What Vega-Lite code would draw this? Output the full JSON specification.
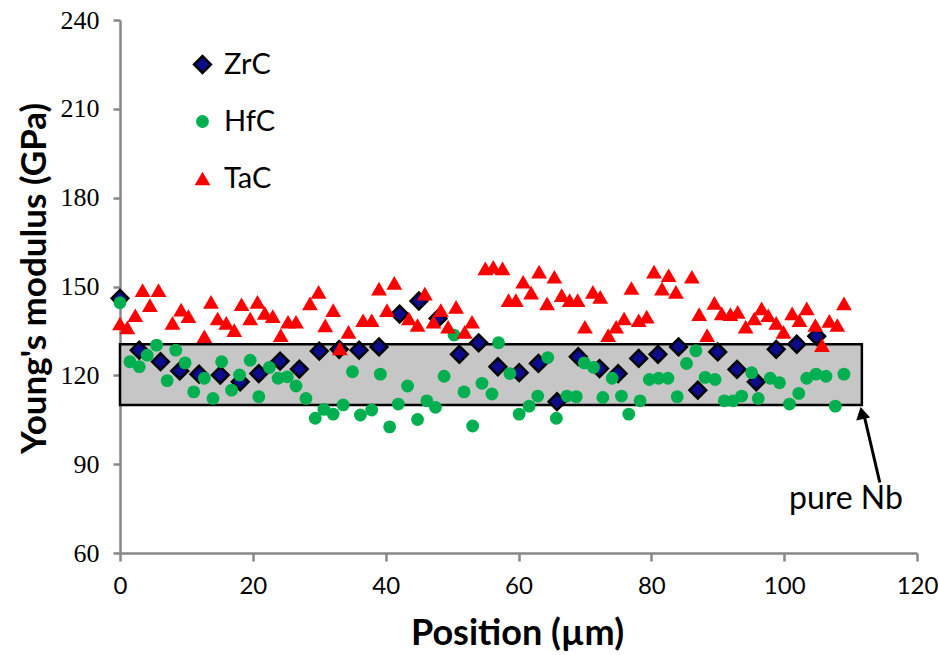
{
  "$schema": "https://vega.github.io/schema/vega-lite/v6.json",
  "width": 797,
  "height": 533,
  "autosize": {"type": "none"},
  "padding": {"left": 120, "top": 20, "right": 22, "bottom": 102},
  "background": "white",
  "config": {
    "view": {"stroke": null},
    "axis": {"grid": false},
    "legend": {
      "orient": "none",
      "legendX": 68,
      "legendY": 30,
      "labelFont": "Lato",
      "labelFontSize": 29,
      "labelColor": "black",
      "labelOffset": 7,
      "rowPadding": 27,
      "symbolOpacity": 1
    }
  },
  "datasets": {
    "band": [{"start": 0, "end": 111.7, "low": 110, "high": 130.5}],
    "note": [{"position": 109.3, "modulus": 78.3, "label": "pure Nb"}],
    "arrow": [{"from_x": 114.4, "from_y": 83.8, "to_x": 112.0, "to_y": 106.8, "head_x": 111.7, "head_y": 107.3}],
    "modulus": [
      {"position": 0, "modulus": 146, "material": "ZrC"},
      {"position": 2.9, "modulus": 128.5, "material": "ZrC"},
      {"position": 6.1, "modulus": 124.6, "material": "ZrC"},
      {"position": 9, "modulus": 121.5, "material": "ZrC"},
      {"position": 11.9, "modulus": 120.4, "material": "ZrC"},
      {"position": 15.1, "modulus": 120.1, "material": "ZrC"},
      {"position": 18.1, "modulus": 117.8, "material": "ZrC"},
      {"position": 20.9, "modulus": 120.6, "material": "ZrC"},
      {"position": 24.1, "modulus": 124.8, "material": "ZrC"},
      {"position": 27, "modulus": 122.1, "material": "ZrC"},
      {"position": 30, "modulus": 128.2, "material": "ZrC"},
      {"position": 33, "modulus": 128.8, "material": "ZrC"},
      {"position": 36, "modulus": 128.5, "material": "ZrC"},
      {"position": 39, "modulus": 129.6, "material": "ZrC"},
      {"position": 42.1, "modulus": 140.7, "material": "ZrC"},
      {"position": 45, "modulus": 145.1, "material": "ZrC"},
      {"position": 47.9, "modulus": 139.2, "material": "ZrC"},
      {"position": 51.1, "modulus": 127.1, "material": "ZrC"},
      {"position": 54, "modulus": 131, "material": "ZrC"},
      {"position": 56.9, "modulus": 122.9, "material": "ZrC"},
      {"position": 60.1, "modulus": 120.9, "material": "ZrC"},
      {"position": 63, "modulus": 124, "material": "ZrC"},
      {"position": 65.8, "modulus": 111.1, "material": "ZrC"},
      {"position": 69, "modulus": 126.3, "material": "ZrC"},
      {"position": 72.2, "modulus": 122.3, "material": "ZrC"},
      {"position": 75, "modulus": 120.6, "material": "ZrC"},
      {"position": 78.1, "modulus": 125.7, "material": "ZrC"},
      {"position": 81, "modulus": 127.1, "material": "ZrC"},
      {"position": 84.1, "modulus": 129.6, "material": "ZrC"},
      {"position": 87, "modulus": 115, "material": "ZrC"},
      {"position": 90, "modulus": 127.9, "material": "ZrC"},
      {"position": 92.9, "modulus": 122, "material": "ZrC"},
      {"position": 95.8, "modulus": 117.8, "material": "ZrC"},
      {"position": 98.8, "modulus": 128.8, "material": "ZrC"},
      {"position": 101.9, "modulus": 130.5, "material": "ZrC"},
      {"position": 104.9, "modulus": 133.2, "material": "ZrC"},
      {"position": 0, "modulus": 144.5, "material": "HfC"},
      {"position": 1.5, "modulus": 124.6, "material": "HfC"},
      {"position": 2.9, "modulus": 122.9, "material": "HfC"},
      {"position": 4.1, "modulus": 126.8, "material": "HfC"},
      {"position": 5.5, "modulus": 130.2, "material": "HfC"},
      {"position": 7.1, "modulus": 118.2, "material": "HfC"},
      {"position": 8.4, "modulus": 128.5, "material": "HfC"},
      {"position": 9.8, "modulus": 124.2, "material": "HfC"},
      {"position": 11.1, "modulus": 114.4, "material": "HfC"},
      {"position": 12.7, "modulus": 119, "material": "HfC"},
      {"position": 14, "modulus": 112.2, "material": "HfC"},
      {"position": 15.3, "modulus": 124.6, "material": "HfC"},
      {"position": 16.8, "modulus": 115, "material": "HfC"},
      {"position": 18, "modulus": 120.1, "material": "HfC"},
      {"position": 19.6, "modulus": 125.1, "material": "HfC"},
      {"position": 20.9, "modulus": 112.8, "material": "HfC"},
      {"position": 22.5, "modulus": 122.7, "material": "HfC"},
      {"position": 23.8, "modulus": 119, "material": "HfC"},
      {"position": 25.2, "modulus": 119.5, "material": "HfC"},
      {"position": 26.5, "modulus": 116.4, "material": "HfC"},
      {"position": 28, "modulus": 112.2, "material": "HfC"},
      {"position": 29.4, "modulus": 105.5, "material": "HfC"},
      {"position": 30.7, "modulus": 108.5, "material": "HfC"},
      {"position": 32.1, "modulus": 106.9, "material": "HfC"},
      {"position": 33.6, "modulus": 110, "material": "HfC"},
      {"position": 35, "modulus": 121.2, "material": "HfC"},
      {"position": 36.2, "modulus": 106.6, "material": "HfC"},
      {"position": 37.9, "modulus": 108.3, "material": "HfC"},
      {"position": 39.2, "modulus": 120.4, "material": "HfC"},
      {"position": 40.6, "modulus": 102.6, "material": "HfC"},
      {"position": 41.9, "modulus": 110.3, "material": "HfC"},
      {"position": 43.3, "modulus": 116.4, "material": "HfC"},
      {"position": 44.8, "modulus": 105.1, "material": "HfC"},
      {"position": 46.2, "modulus": 111.4, "material": "HfC"},
      {"position": 47.5, "modulus": 109.2, "material": "HfC"},
      {"position": 48.8, "modulus": 119.7, "material": "HfC"},
      {"position": 50.3, "modulus": 133.6, "material": "HfC"},
      {"position": 51.8, "modulus": 114.4, "material": "HfC"},
      {"position": 53.1, "modulus": 102.9, "material": "HfC"},
      {"position": 54.5, "modulus": 117.3, "material": "HfC"},
      {"position": 56, "modulus": 113.7, "material": "HfC"},
      {"position": 57, "modulus": 131, "material": "HfC"},
      {"position": 58.7, "modulus": 120.6, "material": "HfC"},
      {"position": 60.1, "modulus": 106.9, "material": "HfC"},
      {"position": 61.6, "modulus": 109.6, "material": "HfC"},
      {"position": 62.9, "modulus": 113, "material": "HfC"},
      {"position": 64.4, "modulus": 126, "material": "HfC"},
      {"position": 65.7, "modulus": 105.5, "material": "HfC"},
      {"position": 67.3, "modulus": 113, "material": "HfC"},
      {"position": 68.7, "modulus": 112.8, "material": "HfC"},
      {"position": 69.9, "modulus": 124.2, "material": "HfC"},
      {"position": 71.3, "modulus": 122.7, "material": "HfC"},
      {"position": 72.7, "modulus": 112.5, "material": "HfC"},
      {"position": 74.1, "modulus": 119, "material": "HfC"},
      {"position": 75.5, "modulus": 113, "material": "HfC"},
      {"position": 76.6, "modulus": 106.9, "material": "HfC"},
      {"position": 78.3, "modulus": 111.4, "material": "HfC"},
      {"position": 79.7, "modulus": 118.6, "material": "HfC"},
      {"position": 81.1, "modulus": 119, "material": "HfC"},
      {"position": 82.5, "modulus": 119, "material": "HfC"},
      {"position": 83.9, "modulus": 112.8, "material": "HfC"},
      {"position": 85.3, "modulus": 124, "material": "HfC"},
      {"position": 86.7, "modulus": 128.3, "material": "HfC"},
      {"position": 88.1, "modulus": 119.3, "material": "HfC"},
      {"position": 89.6, "modulus": 118.6, "material": "HfC"},
      {"position": 91, "modulus": 111.4, "material": "HfC"},
      {"position": 92.3, "modulus": 111.4, "material": "HfC"},
      {"position": 93.6, "modulus": 113, "material": "HfC"},
      {"position": 95.1, "modulus": 120.9, "material": "HfC"},
      {"position": 96.1, "modulus": 112.2, "material": "HfC"},
      {"position": 97.9, "modulus": 119, "material": "HfC"},
      {"position": 99.3, "modulus": 117.5, "material": "HfC"},
      {"position": 100.8, "modulus": 110.3, "material": "HfC"},
      {"position": 102.2, "modulus": 113.9, "material": "HfC"},
      {"position": 103.4, "modulus": 119, "material": "HfC"},
      {"position": 104.8, "modulus": 120.4, "material": "HfC"},
      {"position": 106.3, "modulus": 119.7, "material": "HfC"},
      {"position": 107.7, "modulus": 109.6, "material": "HfC"},
      {"position": 109, "modulus": 120.4, "material": "HfC"},
      {"position": 0, "modulus": 137.5, "material": "TaC"},
      {"position": 1.1, "modulus": 136.2, "material": "TaC"},
      {"position": 2.3, "modulus": 140.3, "material": "TaC"},
      {"position": 3.4, "modulus": 148.8, "material": "TaC"},
      {"position": 4.5, "modulus": 143.7, "material": "TaC"},
      {"position": 5.8, "modulus": 148.8, "material": "TaC"},
      {"position": 7.9, "modulus": 137.7, "material": "TaC"},
      {"position": 9.2, "modulus": 142.2, "material": "TaC"},
      {"position": 10.3, "modulus": 140, "material": "TaC"},
      {"position": 12.7, "modulus": 133.2, "material": "TaC"},
      {"position": 13.7, "modulus": 144.8, "material": "TaC"},
      {"position": 14.7, "modulus": 139.2, "material": "TaC"},
      {"position": 16, "modulus": 137.7, "material": "TaC"},
      {"position": 17.2, "modulus": 135.3, "material": "TaC"},
      {"position": 18.3, "modulus": 144, "material": "TaC"},
      {"position": 19.6, "modulus": 139.2, "material": "TaC"},
      {"position": 20.7, "modulus": 144.8, "material": "TaC"},
      {"position": 21.8, "modulus": 141.1, "material": "TaC"},
      {"position": 23, "modulus": 140, "material": "TaC"},
      {"position": 24.2, "modulus": 133.6, "material": "TaC"},
      {"position": 25.3, "modulus": 138.1, "material": "TaC"},
      {"position": 26.5, "modulus": 138.1, "material": "TaC"},
      {"position": 28.6, "modulus": 144.3, "material": "TaC"},
      {"position": 29.9, "modulus": 148.2, "material": "TaC"},
      {"position": 30.9, "modulus": 136.9, "material": "TaC"},
      {"position": 32.1, "modulus": 142, "material": "TaC"},
      {"position": 33.1, "modulus": 129.1, "material": "TaC"},
      {"position": 34.4, "modulus": 134.7, "material": "TaC"},
      {"position": 36.6, "modulus": 138.6, "material": "TaC"},
      {"position": 37.9, "modulus": 138.6, "material": "TaC"},
      {"position": 39, "modulus": 149.3, "material": "TaC"},
      {"position": 40.2, "modulus": 142, "material": "TaC"},
      {"position": 41.3, "modulus": 151.2, "material": "TaC"},
      {"position": 43.5, "modulus": 139.2, "material": "TaC"},
      {"position": 44.8, "modulus": 137, "material": "TaC"},
      {"position": 45.9, "modulus": 147.6, "material": "TaC"},
      {"position": 47.2, "modulus": 138.1, "material": "TaC"},
      {"position": 48.3, "modulus": 142, "material": "TaC"},
      {"position": 49.4, "modulus": 136.4, "material": "TaC"},
      {"position": 50.6, "modulus": 143.1, "material": "TaC"},
      {"position": 51.9, "modulus": 134.7, "material": "TaC"},
      {"position": 53, "modulus": 138.1, "material": "TaC"},
      {"position": 55, "modulus": 156.1, "material": "TaC"},
      {"position": 56.2, "modulus": 156.6, "material": "TaC"},
      {"position": 57.6, "modulus": 156.1, "material": "TaC"},
      {"position": 58.5, "modulus": 145.4, "material": "TaC"},
      {"position": 59.6, "modulus": 145.4, "material": "TaC"},
      {"position": 60.7, "modulus": 151.6, "material": "TaC"},
      {"position": 61.9, "modulus": 147.9, "material": "TaC"},
      {"position": 63.1, "modulus": 155, "material": "TaC"},
      {"position": 64.3, "modulus": 144.3, "material": "TaC"},
      {"position": 65.4, "modulus": 153.3, "material": "TaC"},
      {"position": 66.5, "modulus": 147.1, "material": "TaC"},
      {"position": 67.7, "modulus": 145.4, "material": "TaC"},
      {"position": 68.9, "modulus": 145.4, "material": "TaC"},
      {"position": 70, "modulus": 136.4, "material": "TaC"},
      {"position": 71.2, "modulus": 148.2, "material": "TaC"},
      {"position": 72.3, "modulus": 146.5, "material": "TaC"},
      {"position": 73.5, "modulus": 133.6, "material": "TaC"},
      {"position": 74.7, "modulus": 136.4, "material": "TaC"},
      {"position": 75.9, "modulus": 139.2, "material": "TaC"},
      {"position": 77, "modulus": 149.5, "material": "TaC"},
      {"position": 78.1, "modulus": 138.6, "material": "TaC"},
      {"position": 79.3, "modulus": 139.8, "material": "TaC"},
      {"position": 80.4, "modulus": 155, "material": "TaC"},
      {"position": 81.6, "modulus": 149.3, "material": "TaC"},
      {"position": 82.6, "modulus": 153.8, "material": "TaC"},
      {"position": 83.7, "modulus": 148.2, "material": "TaC"},
      {"position": 86.1, "modulus": 153.3, "material": "TaC"},
      {"position": 87.2, "modulus": 140.7, "material": "TaC"},
      {"position": 88.4, "modulus": 133.6, "material": "TaC"},
      {"position": 89.5, "modulus": 144.5, "material": "TaC"},
      {"position": 90.6, "modulus": 140.9, "material": "TaC"},
      {"position": 91.9, "modulus": 140.7, "material": "TaC"},
      {"position": 93, "modulus": 141.4, "material": "TaC"},
      {"position": 94.2, "modulus": 136.4, "material": "TaC"},
      {"position": 95.5, "modulus": 139.2, "material": "TaC"},
      {"position": 96.6, "modulus": 142.6, "material": "TaC"},
      {"position": 97.6, "modulus": 140.3, "material": "TaC"},
      {"position": 98.8, "modulus": 137.7, "material": "TaC"},
      {"position": 99.9, "modulus": 134.7, "material": "TaC"},
      {"position": 101.2, "modulus": 140.9, "material": "TaC"},
      {"position": 102.3, "modulus": 138.6, "material": "TaC"},
      {"position": 103.4, "modulus": 142.6, "material": "TaC"},
      {"position": 104.7, "modulus": 137, "material": "TaC"},
      {"position": 105.7, "modulus": 130.2, "material": "TaC"},
      {"position": 106.8, "modulus": 138.4, "material": "TaC"},
      {"position": 108, "modulus": 137, "material": "TaC"},
      {"position": 109, "modulus": 144.3, "material": "TaC"}
    ]
  },
  "layer": [
    {
      "data": {"name": "band"},
      "mark": {"type": "rect", "fill": "#C6C6C6", "stroke": "black", "strokeWidth": 2.5},
      "encoding": {
        "x": {
          "field": "start", "type": "quantitative", "title": "Position (µm)",
          "scale": {"domain": [0, 120], "nice": false},
          "axis": {
            "values": [0, 20, 40, 60, 80, 100, 120],
            "domainColor": "#878787", "domainWidth": 2.5,
            "tickColor": "#878787", "tickWidth": 2.5, "tickSize": 8,
            "labelFont": "Lato", "labelFontSize": 24, "labelColor": "black", "labelPadding": 13,
            "labelFlush": false,
            "titleFont": "Lato", "titleFontSize": 36, "titleFontWeight": "bold", "titleColor": "black",
            "titleX": 397, "titleY": 80, "titleBaseline": "middle", "titleAlign": "center"
          }
        },
        "x2": {"field": "end"},
        "y": {
          "field": "low", "type": "quantitative", "title": "Young's modulus (GPa)",
          "scale": {"domain": [60, 240], "nice": false},
          "axis": {
            "values": [60, 90, 120, 150, 180, 210, 240],
            "domainColor": "#878787", "domainWidth": 2.5,
            "tickColor": "#878787", "tickWidth": 2.5, "tickSize": 7,
            "labelFont": "Liberation Serif", "labelFontSize": 26, "labelColor": "black", "labelPadding": 14,
            "labelFlush": false,
            "titleFont": "Lato", "titleFontSize": 35, "titleFontWeight": "bold", "titleColor": "black",
            "titleAngle": -90, "titleX": -86, "titleY": 258, "titleBaseline": "middle", "titleAlign": "center"
          }
        },
        "y2": {"field": "high"}
      }
    },
    {
      "data": {"name": "modulus"},
      "mark": {"type": "point", "filled": true, "opacity": 1},
      "encoding": {
        "x": {"field": "position", "type": "quantitative", "title": "Position (µm)"},
        "y": {"field": "modulus", "type": "quantitative", "title": "Young's modulus (GPa)"},
        "shape": {
          "field": "material", "type": "nominal",
          "scale": {"domain": ["ZrC", "HfC", "TaC"], "range": ["diamond", "circle", "triangle-up"]},
          "legend": {"title": null}
        },
        "fill": {
          "field": "material", "type": "nominal",
          "scale": {"domain": ["ZrC", "HfC", "TaC"], "range": ["#0B0B8C", "#00B050", "#FF0000"]},
          "legend": {"title": null}
        },
        "stroke": {
          "field": "material", "type": "nominal",
          "scale": {"domain": ["ZrC", "HfC", "TaC"], "range": ["#000000", "#00B050", "#FF0000"]},
          "legend": {"title": null}
        },
        "strokeWidth": {
          "field": "material", "type": "nominal",
          "scale": {"type": "ordinal", "domain": ["ZrC", "HfC", "TaC"], "range": [2.5, 0, 0]},
          "legend": {"title": null}
        },
        "size": {
          "field": "material", "type": "nominal",
          "scale": {"type": "ordinal", "domain": ["ZrC", "HfC", "TaC"], "range": [280, 165, 250]},
          "legend": {"title": null}
        }
      }
    },
    {
      "data": {"name": "arrow"},
      "mark": {"type": "rule", "color": "black", "strokeWidth": 3},
      "encoding": {
        "x": {"field": "from_x", "type": "quantitative", "title": "Position (µm)"},
        "y": {"field": "from_y", "type": "quantitative", "title": "Young's modulus (GPa)"},
        "x2": {"field": "to_x"},
        "y2": {"field": "to_y"}
      }
    },
    {
      "data": {"name": "arrow"},
      "mark": {"type": "point", "shape": "triangle-up", "filled": true, "color": "black", "opacity": 1, "size": 200, "angle": -12},
      "encoding": {
        "x": {"field": "head_x", "type": "quantitative", "title": "Position (µm)"},
        "y": {"field": "head_y", "type": "quantitative", "title": "Young's modulus (GPa)"}
      }
    },
    {
      "data": {"name": "note"},
      "mark": {"type": "text", "font": "Lato", "fontSize": 32, "color": "black", "align": "center", "baseline": "middle"},
      "encoding": {
        "x": {"field": "position", "type": "quantitative", "title": "Position (µm)"},
        "y": {"field": "modulus", "type": "quantitative", "title": "Young's modulus (GPa)"},
        "text": {"field": "label"}
      }
    }
  ]
}
